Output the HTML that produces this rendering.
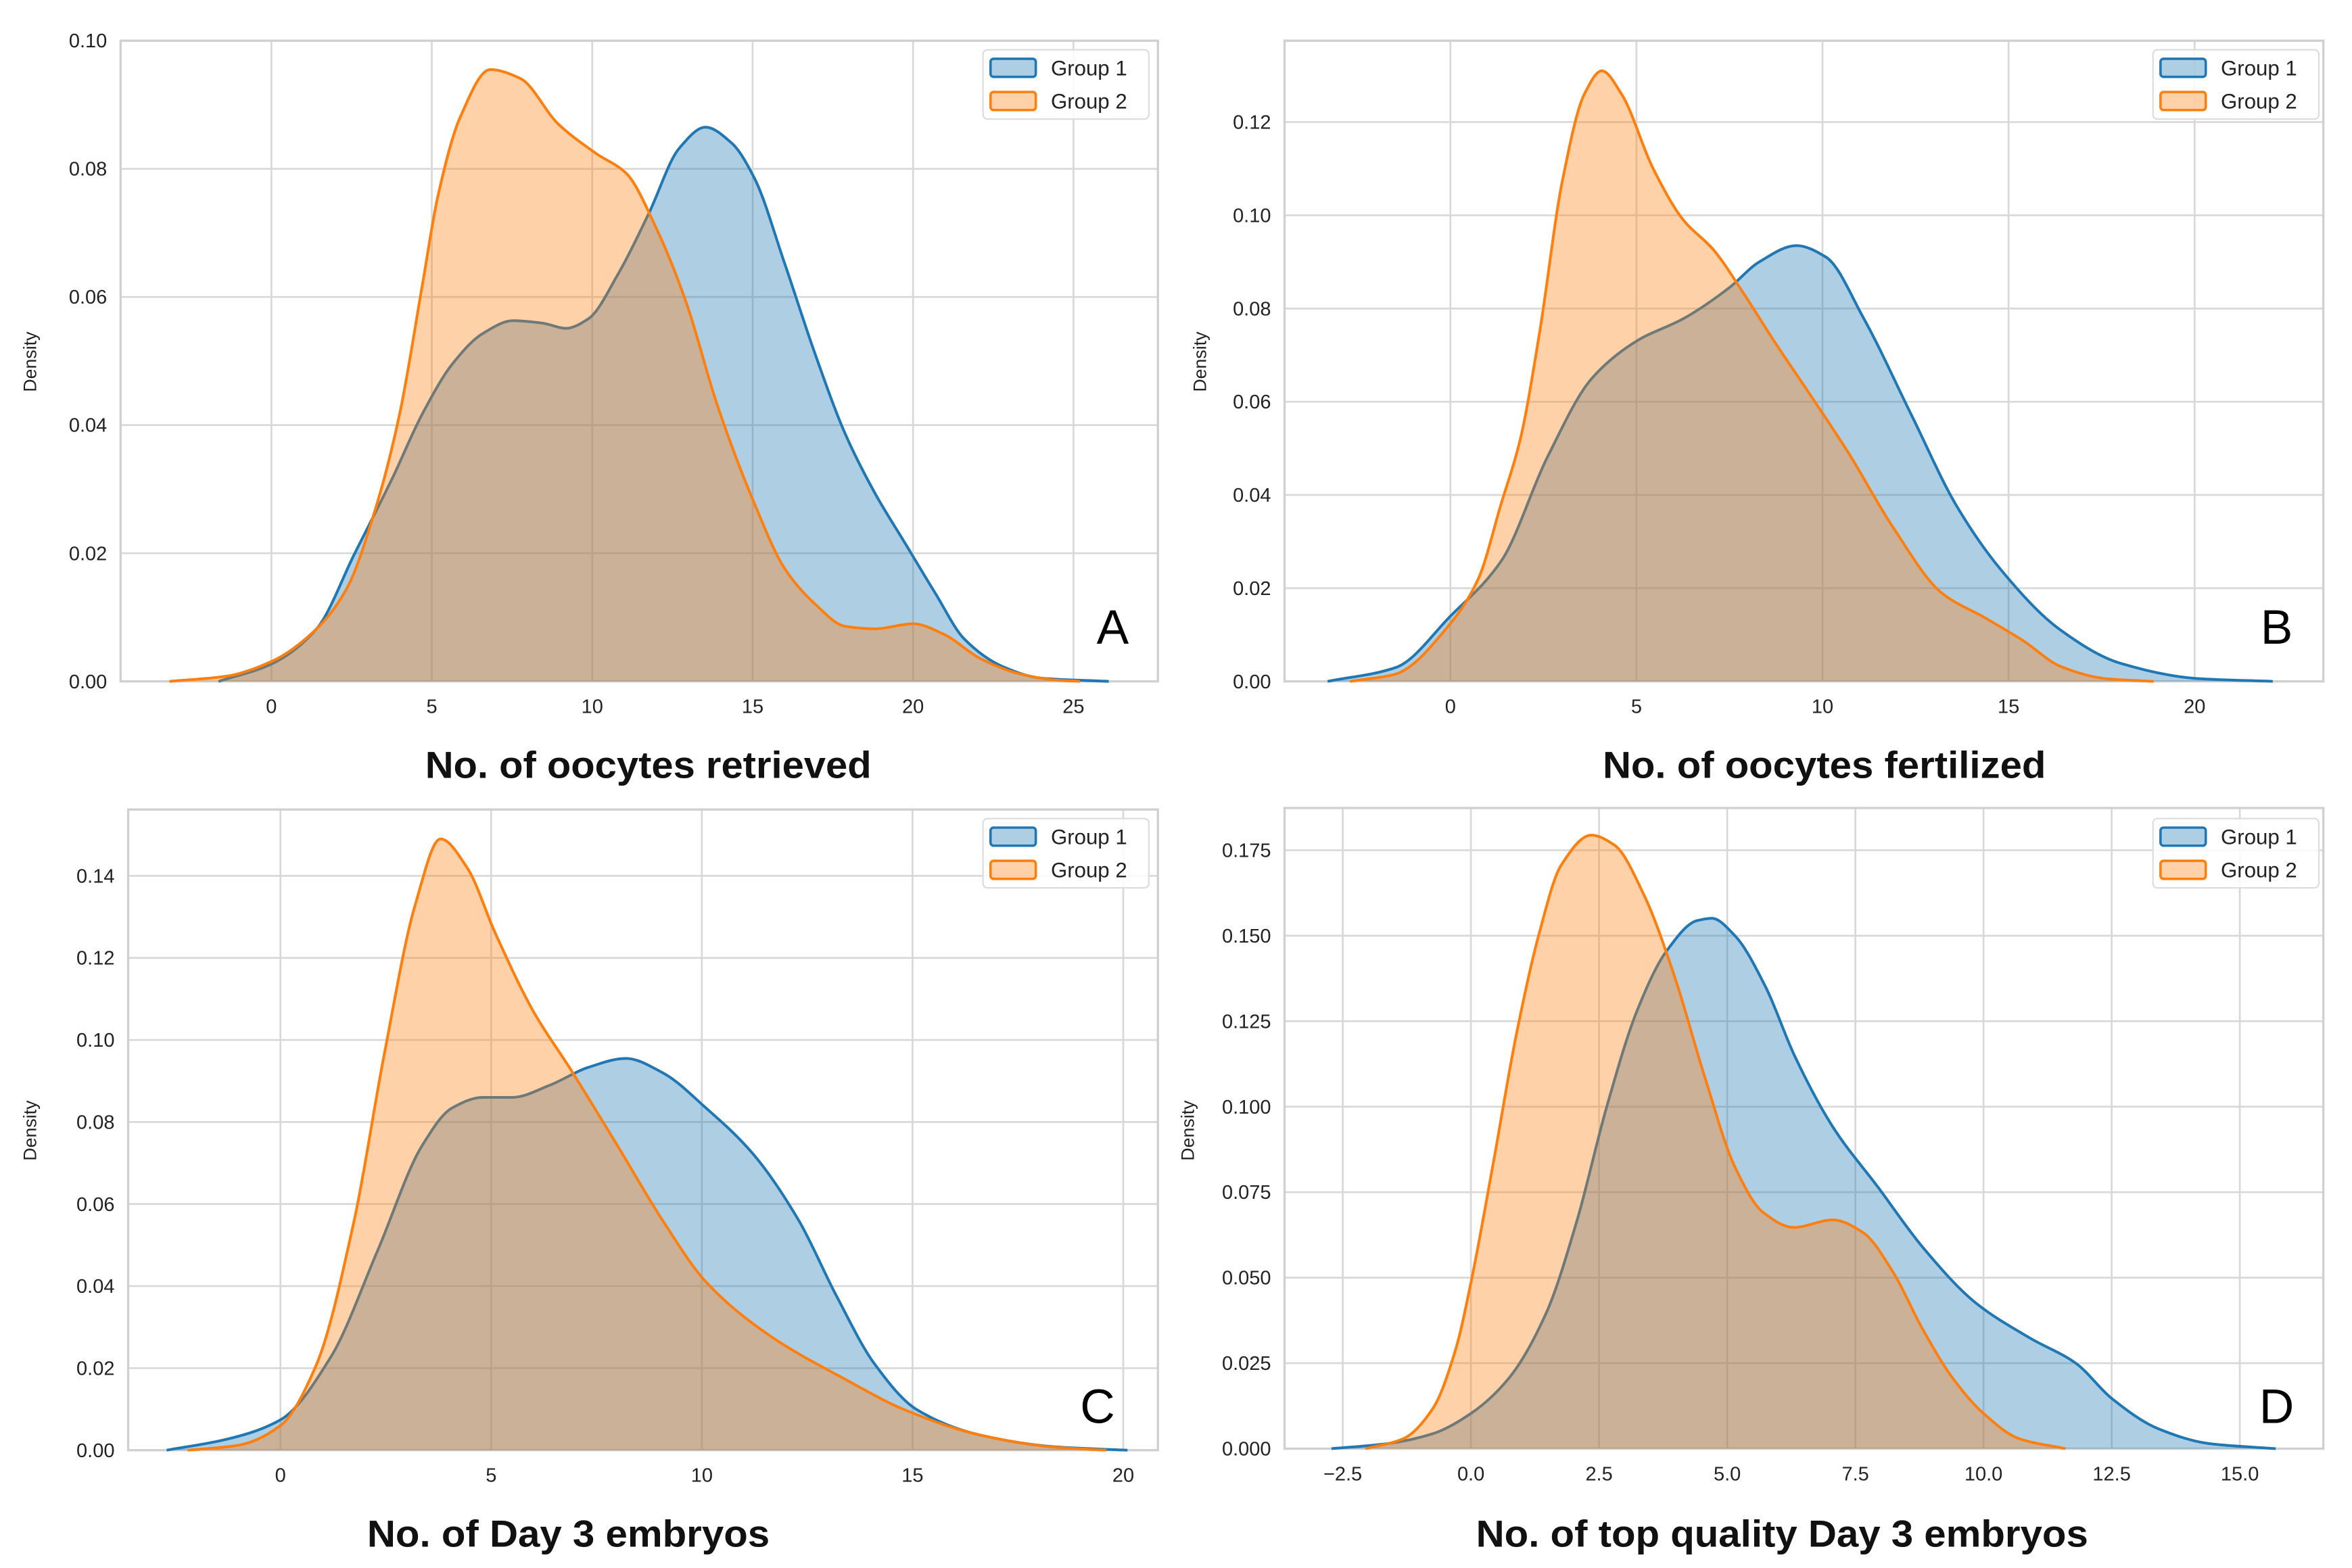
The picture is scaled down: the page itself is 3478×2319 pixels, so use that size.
<!DOCTYPE html>
<html><head><meta charset="utf-8"><style>
html,body{margin:0;padding:0;background:#fff;}
svg{display:block;}
text{font-family:"Liberation Sans",sans-serif;}
</style></head><body>
<svg id="fig" xmlns="http://www.w3.org/2000/svg" width="3478" height="2319" viewBox="0 0 1560 1040.15"></svg>
<script>
// Panel A data
const aXTicks = [0,5,10,15,20,25];
const aYTicks = [0,0.02,0.04,0.06,0.08,0.10];
const aYLabels = ["0.00","0.02","0.04","0.06","0.08","0.10"];
const aG1x = [-1.65,0,1.41,2.59,3.76,4.71,5.65,6.59,7.53,8.47,9.18,9.88,10.82,11.76,12.71,13.53,14.35,15.06,16,16.94,17.88,18.82,19.76,20.7,21.6,22.8,24,26.1];
const aG1y = [0,0.0027,0.0082,0.0199,0.0316,0.0418,0.0496,0.0543,0.0563,0.0559,0.0551,0.0566,0.0637,0.073,0.0832,0.0865,0.084,0.0785,0.0652,0.0512,0.0387,0.0293,0.0215,0.0137,0.0066,0.0023,0.0005,0];
const aG2x = [-3.18,-1.41,0,1.41,2.35,3.29,4,4.71,5.18,5.88,6.82,7.76,8.94,10.12,11.06,12,12.94,13.88,15.06,16,16.94,17.88,18.82,20,20.94,22.12,23.3,24.47,25.2];
const aG2y = [0,0.0008,0.0031,0.0082,0.0145,0.0277,0.0418,0.062,0.0755,0.088,0.0955,0.0941,0.087,0.0824,0.0793,0.0707,0.059,0.0434,0.0277,0.0176,0.0121,0.0086,0.0082,0.009,0.0074,0.0035,0.0012,0.0002,0];
// Panel B data
const bXTicks = [0,5,10,15,20];
const bYTicks = [0,0.02,0.04,0.06,0.08,0.10,0.12];
const bYLabels = ["0.00","0.02","0.04","0.06","0.08","0.10","0.12"];
const bG1x = [-3.3,-1.46,0,1.38,2.6,3.8,5,6.3,7.5,8.3,9.3,10.1,11.1,12.4,13.6,14.8,16.4,18,20.1,22.1];
const bG1y = [0,0.003,0.014,0.026,0.048,0.065,0.073,0.078,0.0845,0.09,0.0935,0.091,0.078,0.057,0.0377,0.0239,0.011,0.0039,0.0006,0];
const bG2x = [-2.7,-1.5,0,0.75,1.36,1.88,2.4,3,3.6,4.07,4.6,5.45,6.26,7.07,7.9,8.7,9.5,10.7,11.9,13.2,14.4,15.4,16.4,17.6,18.9];
const bG2y = [0,0.0015,0.0124,0.022,0.038,0.052,0.075,0.107,0.126,0.131,0.126,0.11,0.099,0.0926,0.083,0.073,0.0635,0.049,0.033,0.019,0.0135,0.0087,0.0032,0.0006,0];
// Panel C data
const cXTicks = [0,5,10,15,20];
const cYTicks = [0,0.02,0.04,0.06,0.08,0.10,0.12,0.14];
const cYLabels = ["0.00","0.02","0.04","0.06","0.08","0.10","0.12","0.14"];
const cG1x = [-2.7,-1.3,0,1.2,2.3,3.36,4.07,4.8,5.5,6.4,7.3,8.2,9.07,10.1,11.2,12.3,13.2,14.1,15.1,16.6,18.4,20.1];
const cG1y = [0,0.0026,0.0074,0.0228,0.0485,0.0742,0.0834,0.086,0.086,0.089,0.0933,0.0955,0.092,0.0834,0.0724,0.056,0.0375,0.021,0.0099,0.0037,0.0008,0];
const cG2x = [-2.2,-1,0,0.86,1.75,2.46,3.2,3.8,4.43,5.1,6,6.9,8,9.07,10.1,11.6,13.4,14.8,16.6,18.4,19.6];
const cG2y = [0,0.0012,0.006,0.021,0.056,0.0963,0.133,0.149,0.142,0.126,0.107,0.0926,0.0742,0.056,0.041,0.028,0.0173,0.0099,0.0037,0.0007,0];
// Panel D data
const dXTicks = [-2.5,0,2.5,5,7.5,10,12.5,15];
const dXLabels = ["\u22122.5","0.0","2.5","5.0","7.5","10.0","12.5","15.0"];
const dYTicks = [0,0.025,0.05,0.075,0.1,0.125,0.15,0.175];
const dYLabels = ["0.000","0.025","0.050","0.075","0.100","0.125","0.150","0.175"];
const dG1x = [-2.72,-1.62,-0.74,0,0.74,1.47,2.06,2.65,3.24,3.82,4.41,4.7,5.15,5.74,6.32,7.06,7.94,8.82,9.85,10.9,11.8,12.5,13.4,14.4,15.7];
const dG1y = [0,0.0015,0.0044,0.0103,0.0206,0.0397,0.0662,0.1,0.128,0.1456,0.1544,0.1551,0.15,0.1353,0.1147,0.0941,0.0765,0.0588,0.0426,0.0324,0.025,0.0147,0.0059,0.0015,0];
const dG2x = [-2.06,-1.32,-0.74,-0.29,0,0.44,0.88,1.32,1.76,2.35,2.8,3.38,3.97,4.56,5.15,5.7,6.3,7.06,7.65,8.24,8.8,9.4,10,10.7,11.6];
const dG2y = [0,0.0029,0.0118,0.0294,0.0485,0.0838,0.1206,0.15,0.1706,0.1794,0.1765,0.1618,0.1382,0.1088,0.0824,0.0691,0.0647,0.0669,0.0632,0.0515,0.0353,0.0206,0.0103,0.0029,0];

const NS="http://www.w3.org/2000/svg";
const svg=document.getElementById('fig');
function mk(tag,attrs,parent){const e=document.createElementNS(NS,tag);for(const k in attrs)e.setAttribute(k,attrs[k]);(parent||svg).appendChild(e);return e;}

const panels=[
 {id:'a',box:[80,27,768,452],x0:180,x1:712,xv0:0,xv1:25,y0:452,y1:27,yv1:0.10,xt:aXTicks,xl:null,yt:aYTicks,yl:aYLabels,g1:[aG1x,aG1y],g2:[aG2x,aG2y],title:'No. of oocytes retrieved',tw:296,tx:430,ty:516,letter:'A',lx:738,ly:427,dx:24,dy:240,leg:[652,33]},
 {id:'b',box:[852,27,1541,452],x0:962,x1:1455.6,xv0:0,xv1:20,y0:452,y1:81,yv1:0.12,xt:bXTicks,xl:null,yt:bYTicks,yl:bYLabels,g1:[bG1x,bG1y],g2:[bG2x,bG2y],title:'No. of oocytes fertilized',tw:294,tx:1210,ty:516,letter:'B',lx:1510,ly:427,dx:800,dy:240,leg:[1428,33]},
 {id:'c',box:[85,537,768,962],x0:186,x1:745,xv0:0,xv1:20,y0:962,y1:581,yv1:0.14,xt:cXTicks,xl:null,yt:cYTicks,yl:cYLabels,g1:[cG1x,cG1y],g2:[cG2x,cG2y],title:'No. of Day 3 embryos',tw:267,tx:377,ty:1026,letter:'C',lx:728,ly:944,dx:24,dy:750,leg:[652,543]},
 {id:'d',box:[852,536,1541,961],x0:975.6,x1:1485.6,xv0:0,xv1:15,y0:961,y1:564,yv1:0.175,xt:dXTicks,xl:dXLabels,yt:dYTicks,yl:dYLabels,g1:[dG1x,dG1y],g2:[dG2x,dG2y],title:'No. of top quality Day 3 embryos',tw:406,tx:1182,ty:1026,letter:'D',lx:1510,ly:944,dx:792,dy:750,leg:[1428,543]}
];

// monotone cubic (Fritsch-Carlson) path through pixel points (x increasing)
function smooth(pts){
 const n=pts.length, d=[], m=new Array(n);
 for(let i=0;i<n-1;i++)d.push((pts[i+1][1]-pts[i][1])/(pts[i+1][0]-pts[i][0]));
 m[0]=d[0]; m[n-1]=d[n-2];
 for(let i=1;i<n-1;i++){
  if(d[i-1]*d[i]<=0)m[i]=0;
  else{const h0=pts[i][0]-pts[i-1][0],h1=pts[i+1][0]-pts[i][0];const w1=2*h1+h0,w2=h1+2*h0;m[i]=(w1+w2)/(w1/d[i-1]+w2/d[i]);}
 }
 let s='M'+pts[0][0].toFixed(2)+','+pts[0][1].toFixed(2);
 for(let i=0;i<n-1;i++){
  const h=pts[i+1][0]-pts[i][0];
  s+=' C'+(pts[i][0]+h/3).toFixed(2)+','+(pts[i][1]+m[i]*h/3).toFixed(2)+' '+(pts[i+1][0]-h/3).toFixed(2)+','+(pts[i+1][1]-m[i+1]*h/3).toFixed(2)+' '+pts[i+1][0].toFixed(2)+','+pts[i+1][1].toFixed(2);
 }
 return s;
}

panels.forEach(p=>{
 const g=mk('g',{});
 
 
 const sx=v=>p.x0+(v-p.xv0)*(p.x1-p.x0)/(p.xv1-p.xv0);
 const sy=v=>p.y0-v*(p.y0-p.y1)/p.yv1;
 const [L,T,R,B]=p.box;
 p.yt.forEach((v,i)=>{
  const y=sy(v);
  const l=mk('line',{x1:L,x2:R,y1:y,y2:y,stroke:'#d8d8d8','stroke-width':1.2},g);
  
  
  const t=mk('text',{x:L-9,y:y+4.5,'font-size':13,'text-anchor':'end',fill:'#222'},g);
  
  
  t.textContent=p.yl[i];
 });
 p.xt.forEach((v,i)=>{
  const x=sx(v);
  const l=mk('line',{x1:x,x2:x,y1:T,y2:B,stroke:'#d8d8d8','stroke-width':1.2},g);
  
  
  const t=mk('text',{x:x,y:B+21,'font-size':13,'text-anchor':'middle',fill:'#222'},g);
  
  
  t.textContent=p.xl?p.xl[i]:String(v);
 });
 const fr=mk('rect',{x:L,y:T,width:R-L,height:B-T,fill:'none',stroke:'#d0d0d0','stroke-width':1.5},g);
 
 
 [[p.g1,'#1f77b4','group-1'],[p.g2,'#ff7f0e','group-2']].forEach(([s,c,n])=>{
  const pts=s[0].map((x,i)=>[sx(x),sy(s[1][i])]);
  const d=smooth(pts);
  const f=mk('path',{d:d+' L'+pts[pts.length-1][0]+','+sy(0)+' L'+pts[0][0]+','+sy(0)+' Z',fill:c,'fill-opacity':0.36,stroke:'none'},g);
  
  
  const ln=mk('path',{d:d,fill:'none',stroke:c,'stroke-width':1.8},g);
  
  
 });
 const [lx,ly]=p.leg;
 const lg=mk('g',{},g);
 
 
 mk('rect',{x:lx,y:ly,width:110,height:46,rx:3,fill:'#fff','fill-opacity':0.85,stroke:'#ddd','stroke-width':1},lg);
 [['#1f77b4','Group 1'],['#ff7f0e','Group 2']].forEach(([c,t],i)=>{
  const e=mk('g',{},lg);
  
  
  mk('rect',{x:lx+5,y:ly+6+i*22,width:30,height:12,rx:2,fill:c,'fill-opacity':0.36,stroke:c,'stroke-width':1.6},e);
  const tx=mk('text',{x:lx+45,y:ly+17+i*22,'font-size':14,fill:'#222'},e);
  tx.textContent=t;
 });
 const yt=mk('text',{x:p.dx,y:p.dy,'font-size':12,'text-anchor':'middle',fill:'#222',transform:'rotate(-90 '+p.dx+' '+p.dy+')'},g);
 
 
 yt.textContent='Density';
 const xt=mk('text',{x:p.tx,y:p.ty,'font-size':25,'text-anchor':'middle',fill:'#111','font-weight':'bold',textLength:p.tw,lengthAdjust:'spacingAndGlyphs'},g);
 
 
 xt.textContent=p.title;
 const le=mk('text',{x:p.lx,y:p.ly,'font-size':32,'text-anchor':'middle',fill:'#000'},g);
 
 
 le.textContent=p.letter;
});
</script>
</body></html>
